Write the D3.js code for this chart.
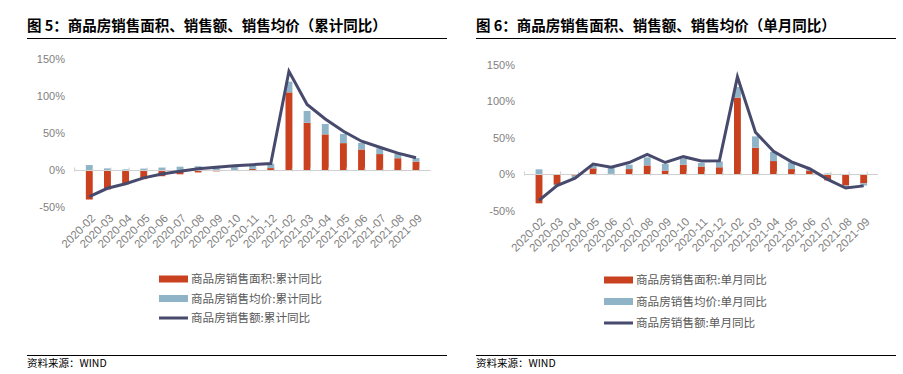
<!DOCTYPE html>
<html>
<head>
<meta charset="utf-8">
<script src="https://cdn.jsdelivr.net/npm/d3@7"></script>
<style>
  body { margin: 0; background: #fff; }
  svg { display: block; font-family: "Liberation Sans", Arial, "Noto Sans CJK SC", sans-serif; }
  .tick-label { fill: #7f7f7f; font-size: 11px; }
  .x-label { fill: #7f7f7f; font-size: 11.5px; }
  .legend-text { fill: #595959; font-size: 11.6px; font-family: "Noto Sans CJK SC", sans-serif; }
  .title { font-size: 14.5px; font-weight: bold; fill: #000; font-family: "Noto Sans CJK SC", sans-serif; }
  .source { font-size: 10.5px; fill: #000; font-family: "Noto Sans CJK SC", sans-serif; }
</style>
</head>
<body>
<div id="chart"></div>
<script>
// categories (same for both panels)
const months = ["2020-02","2020-03","2020-04","2020-05","2020-06","2020-07","2020-08","2020-09","2020-10","2020-11","2020-12",
                "2021-02","2021-03","2021-04","2021-05","2021-06","2021-07","2021-08","2021-09"];
const yTicks = [-50, 0, 50, 100, 150];

// 图5 cumulative YoY (%)
const cumArea   = [-39.9, -26.3, -19.3, -12.3, -8.4, -5.8, -3.3, -1.8, 0.0, 1.3, 2.6, 104.9, 63.8, 48.1, 36.3, 27.7, 21.5, 15.9, 11.3];
const cumPrice  = [6.7, 2.2, 0.9, 1.9, 3.3, 4.5, 5.1, 5.6, 5.8, 5.8, 5.9, 14.5, 16.0, 14.1, 12.5, 9.0, 7.8, 5.9, 4.8];
const cumAmount = [-35.9, -24.7, -18.6, -10.6, -5.4, -1.6, 1.6, 3.7, 5.8, 7.2, 8.7, 133.4, 88.5, 69.0, 52.4, 38.9, 30.7, 22.8, 16.6];

// 图6 monthly YoY (%)
const monArea   = [-39.9, -14.5, -2.0, 8.0, 0.5, 7.0, 12.0, 5.0, 13.0, 10.5, 9.5, 104.9, 36.3, 18.0, 7.0, 5.0, -8.5, -15.5, -12.5];
const monPrice  = [6.7, -1.0, -3.0, 4.0, 9.0, 6.0, 11.0, 9.0, 8.0, 5.0, 8.0, 14.5, 15.5, 12.5, 9.0, 2.0, 1.0, -3.0, -3.0];
const monAmount = [-35.9, -15.5, -5.5, 14.0, 9.5, 16.0, 27.0, 16.0, 24.0, 18.0, 18.5, 133.4, 57.5, 31.5, 17.0, 7.5, -7.0, -19.0, -16.0];

const colors = {area: "#c9411f", price: "#8fb4c8", amount: "#474a6c"};

const W = 903, H = 374;
const svg = d3.select("#chart").append("svg").attr("width", W).attr("height", H);

function drawPanel(p) {
    const g = svg.append("g");

    // title + rules
    g.append("text").attr("class", "title")
        .attr("x", p.left).attr("y", 31)
        .text(p.title);
    g.append("line")
        .attr("x1", p.left).attr("x2", p.right)
        .attr("y1", 38.5).attr("y2", 38.5)
        .attr("stroke", "#000").attr("stroke-width", 1.2);
    g.append("line")
        .attr("x1", p.left).attr("x2", p.right)
        .attr("y1", 355.5).attr("y2", 355.5)
        .attr("stroke", "#000").attr("stroke-width", 1.2);
    g.append("text").attr("class", "source")
        .attr("x", p.left).attr("y", 367)
        .text("资料来源：WIND");

    // Scales
    const xScale = d3.scaleBand()
        .domain(months)
        .range([p.x0, p.x1])
        .padding(0.62);

    const yScale = d3.scaleLinear()
        .domain([-50, 150])
        .range([p.yBottom, p.yTop]);

    // y labels
    g.selectAll(".ylab")
        .data(yTicks)
        .enter()
        .append("text")
        .attr("class", "tick-label")
        .attr("x", p.yLabelX)
        .attr("y", d => yScale(d))
        .attr("dy", "0.35em")
        .attr("text-anchor", "end")
        .text(d => d + "%");

    // Bars (stacked, diverging)
    const rows = months.map((m, i) => ({month: m, area: p.area[i], price: p.price[i]}));
    const series = d3.stack()
        .keys(["area", "price"])
        .offset(d3.stackOffsetDiverging)(rows);

    g.selectAll(".series")
        .data(series)
        .enter()
        .append("g")
        .attr("fill", d => colors[d.key])
        .selectAll("rect")
        .data(d => d)
        .enter()
        .append("rect")
            .attr("x", d => xScale(d.data.month))
            .attr("y", d => yScale(Math.max(d[0], d[1])))
            .attr("width", xScale.bandwidth())
            .attr("height", d => Math.abs(yScale(d[0]) - yScale(d[1])));

    // zero axis with small ticks
    const y0 = Math.round(yScale(0)) + 0.5;
    g.append("line")
        .attr("x1", p.x0).attr("x2", p.x1)
        .attr("y1", y0).attr("y2", y0)
        .attr("stroke", "#d0d0d0").attr("stroke-width", 1);
    const step = xScale.step();
    g.selectAll(".xtick")
        .data(d3.range(months.length + 1))
        .enter()
        .append("line")
        .attr("x1", i => p.x0 + i * step).attr("x2", i => p.x0 + i * step)
        .attr("y1", y0 - 3).attr("y2", y0 + 1)
        .attr("stroke", "#d0d0d0");

    // Line
    const line = d3.line()
        .x((d, i) => xScale(months[i]) + xScale.bandwidth() / 2)
        .y(d => yScale(d));
    g.append("path")
        .datum(p.amount)
        .attr("fill", "none")
        .attr("stroke", colors.amount)
        .attr("stroke-width", 3)
        .attr("d", line);

    // x labels
    g.selectAll(".xlab")
        .data(months)
        .enter()
        .append("text")
        .attr("class", "x-label")
        .attr("text-anchor", "end")
        .attr("transform", d => `translate(${xScale(d) + xScale.bandwidth() / 2 + 4},${p.yBottom + 9}) rotate(-45)`)
        .attr("dy", "0.35em")
        .text(d => d);

    // Legend
    const legend = [
        {key: "area", label: p.labels[0], type: "bar"},
        {key: "price", label: p.labels[1], type: "bar"},
        {key: "amount", label: p.labels[2], type: "line"}
    ];
    const lg = g.selectAll(".leg")
        .data(legend)
        .enter()
        .append("g")
        .attr("transform", (d, i) => `translate(${p.legX},${p.legY[i]})`);
    lg.append("rect")
        .attr("x", 0).attr("width", 29)
        .attr("y", d => d.type === "bar" ? -3.5 : -1.5)
        .attr("height", d => d.type === "bar" ? 7 : 3)
        .attr("fill", d => colors[d.key]);
    lg.append("text")
        .attr("class", "legend-text")
        .attr("x", 32)
        .attr("dy", "0.36em")
        .text(d => d.label);
}

drawPanel({
    title: "图 5：商品房销售面积、销售额、销售均价（累计同比）",
    left: 27, right: 447,
    x0: 74.6, x1: 430.7, yTop: 59, yBottom: 207, yLabelX: 65,
    area: cumArea, price: cumPrice, amount: cumAmount,
    labels: ["商品房销售面积:累计同比", "商品房销售均价:累计同比", "商品房销售额:累计同比"],
    legX: 159, legY: [279, 298.5, 318]
});

drawPanel({
    title: "图 6：商品房销售面积、销售额、销售均价（单月同比）",
    left: 476, right: 896,
    x0: 524.4, x1: 878.3, yTop: 64.7, yBottom: 210.7, yLabelX: 515,
    area: monArea, price: monPrice, amount: monAmount,
    labels: ["商品房销售面积:单月同比", "商品房销售均价:单月同比", "商品房销售额:单月同比"],
    legX: 604, legY: [280, 301.5, 323]
});
</script>
</body>
</html>
